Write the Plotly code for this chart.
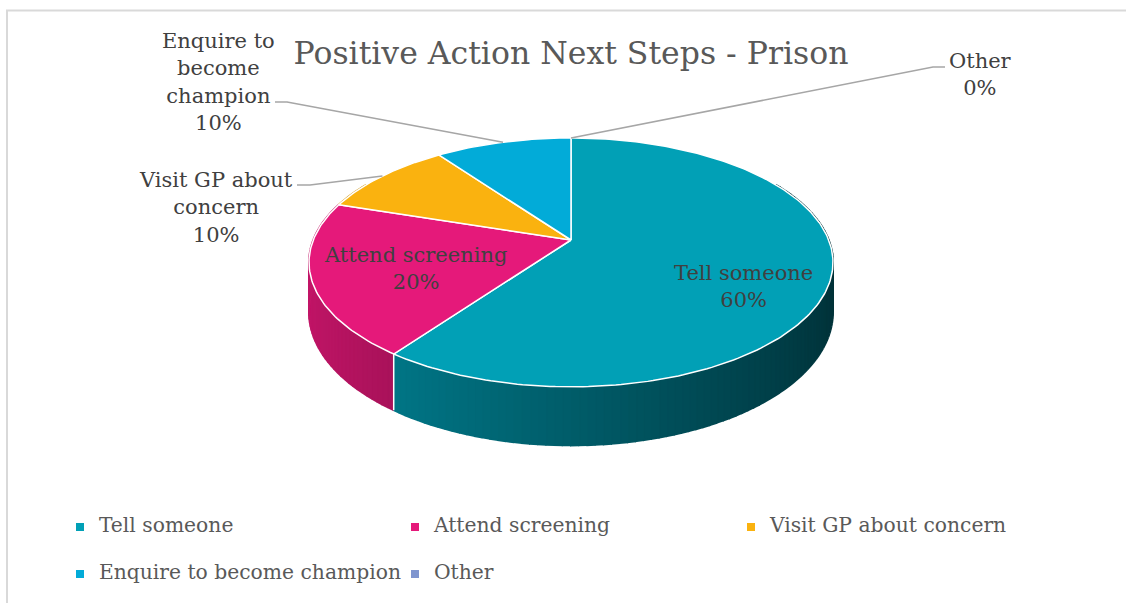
import numpy as np
import plotly.graph_objects as go

# ---------------- data ----------------
categories = ["Tell someone", "Attend screening", "Visit GP about concern",
              "Enquire to become champion", "Other"]
values = [60, 20, 10, 10, 0]
label_texts = ["Tell someone", "Attend screening", "Visit GP about<br>concern",
               "Enquire to<br>become<br>champion", "Other"]
title_text = "Positive Action Next Steps - Prison"

# ---------------- style / layout ----------------
top_colors = ["#01A0B6", "#E5197A", "#FAB20F", "#02ABD8", "#7F95CF"]
FONT = "DejaVu Serif"
W, H = 1126, 603
CX, CY = 571, 240          # pie apex (pixels)
A, B, K = 257.7, 120.4, 0.18  # ellipse semi-axes and perspective factor
DEPTH = 48                 # thickness of the pie

# label placement (pixels): text centre, elbow points
label_layout = {
    "Tell someone": dict(inside=True, pos=(743, 286)),
    "Attend screening": dict(inside=True, pos=(415, 268)),
    "Visit GP about concern": dict(inside=False, pos=(216, 207), elbow=[(297, 185), (310, 185)]),
    "Enquire to become champion": dict(inside=False, pos=(218, 82), elbow=[(275, 102), (287, 102)]),
    "Other": dict(inside=False, pos=(980, 74), elbow=[(945, 67), (933, 67)]),
}
legend_pos = [(80, 527), (415, 527), (751, 527), (80, 574), (415, 574)]


def proj(alpha_deg, drop=0.0):
    a = np.radians(alpha_deg)
    u = np.sin(a)
    v = -np.cos(a)
    s = 1.0 / (1.0 - K * v)
    return CX + A * u * s, CY + (B * v + drop) * s


def hex_to_rgb(h):
    h = h.lstrip("#")
    return tuple(int(h[i:i + 2], 16) for i in (0, 2, 4))


def shade(hexcol, f):
    r, g, b = hex_to_rgb(hexcol)
    return "rgb(%d,%d,%d)" % (r * f, g * f, b * f)


total = float(sum(values))
fracs = [v / total for v in values]
starts = np.concatenate([[0], np.cumsum(fracs)[:-1]]) * 360
ends = np.cumsum(fracs) * 360

fig = go.Figure()

# ---- side walls (shaded segments) ----
for i, (a0, a1) in enumerate(zip(starts, ends)):
    if a1 - a0 <= 0:
        continue
    lo, hi = max(a0, 60), min(a1, 300)
    if hi <= lo:
        continue
    n = max(2, int(np.ceil((hi - lo) / 1.5)))
    edges = np.linspace(lo, hi, n + 1)
    for b0, b1 in zip(edges[:-1], edges[1:]):
        arc = np.linspace(b0, b1, 4)
        tx, ty = proj(arc)
        bx, by = proj(arc[::-1], DEPTH)
        um = np.sin(np.radians((b0 + b1) / 2))
        f = float(np.clip(0.58 - 0.27 * um, 0.3, 0.9))
        col = shade(top_colors[i], f)
        fig.add_trace(go.Scatter(
            x=np.concatenate([tx, bx]), y=np.concatenate([ty, by]),
            fill="toself", fillcolor=col, mode="lines",
            line=dict(color=col, width=2), hoverinfo="skip", showlegend=False))

# white seam on the wall between visible slices
for a in starts[1:]:
    if 90 < a < 270:
        x0, y0 = proj(a)
        x1, y1 = proj(a, DEPTH)
        fig.add_trace(go.Scatter(x=[x0, x1], y=[y0, y1], mode="lines",
                                 line=dict(color="white", width=1.5),
                                 hoverinfo="skip", showlegend=False))

# ---- top faces ----
for i, (a0, a1) in enumerate(zip(starts, ends)):
    if a1 - a0 <= 0:
        continue
    arc = np.linspace(a0, a1, max(3, int((a1 - a0) / 1.0)))
    ax, ay = proj(arc)
    fig.add_trace(go.Scatter(
        x=np.concatenate([[CX], ax, [CX]]), y=np.concatenate([[CY], ay, [CY]]),
        fill="toself", fillcolor=top_colors[i], mode="lines",
        line=dict(color="white", width=1.5), hoverinfo="skip", showlegend=False,
        name=categories[i]))

# ---- labels ----
for i, cat in enumerate(categories):
    lay = label_layout[cat]
    pct = "%d%%" % round(fracs[i] * 100)
    text = label_texts[i] + "<br>" + pct
    fig.add_annotation(x=lay["pos"][0], y=lay["pos"][1], text=text, showarrow=False,
                       xref="x", yref="y", xanchor="center", yanchor="middle",
                       font=dict(family=FONT, size=21, color="#404040"))
    if not lay["inside"]:
        mid = (starts[i] + ends[i]) / 2
        mx, my = proj(mid)
        pts = lay["elbow"] + [(float(mx), float(my))]
        fig.add_trace(go.Scatter(x=[p[0] for p in pts], y=[p[1] for p in pts],
                                 mode="lines", line=dict(color="#A6A6A6", width=1.5),
                                 hoverinfo="skip", showlegend=False))

# ---- legend (manual) ----
fig.add_trace(go.Scatter(
    x=[p[0] for p in legend_pos], y=[p[1] for p in legend_pos],
    mode="markers+text", text=["  " + c for c in categories],
    textposition="middle right",
    textfont=dict(family=FONT, size=20.3, color="#595959"),
    marker=dict(symbol="square", size=8, color=top_colors),
    hoverinfo="skip", showlegend=False))

fig.update_layout(
    width=W, height=H, margin=dict(l=0, r=0, t=0, b=0),
    paper_bgcolor="white", plot_bgcolor="white",
    xaxis=dict(range=[0, W], visible=False, fixedrange=True),
    yaxis=dict(range=[H, 0], visible=False, fixedrange=True),
    title=dict(text=title_text, x=CX / W, xanchor="center", y=1 - 53 / H, yanchor="middle",
               font=dict(family=FONT, size=31.5, color="#595959")),
    shapes=[dict(type="rect", xref="paper", yref="paper", x0=7 / W, x1=1.01, y0=-0.01,
                 y1=1 - 10.5 / H, line=dict(color="#D9D9D9", width=2))],
)

fig.write_html("out.html", post_script="document.body.style.margin='0';",
               config={"displayModeBar": False})
